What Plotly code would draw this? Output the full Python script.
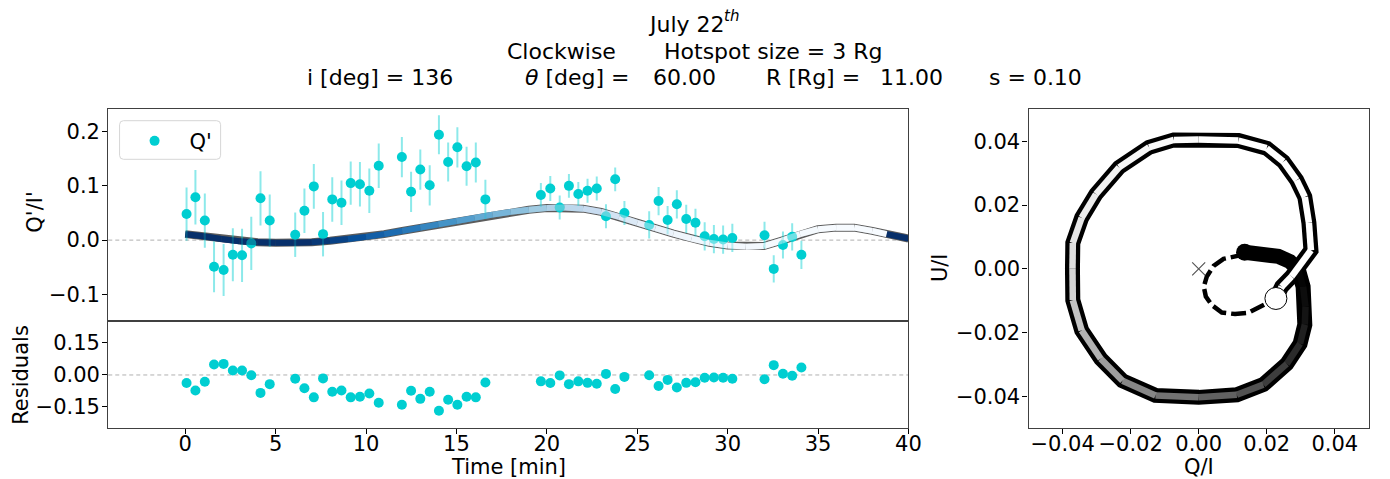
import plotly.graph_objects as go
from plotly.colors import sample_colorscale
import plotly.colors as pc

W, H = 1390, 479
FONT = "DejaVu Sans"
FS = 21

# ---------------- data: light curve (Q'/I') ----------------
time_min = [0.07, 0.56, 1.08, 1.59, 2.12, 2.63, 3.14, 3.65, 4.16, 4.67,
            6.08, 6.59, 7.11, 7.62, 8.13, 8.64, 9.15, 9.66, 10.18, 10.70,
            11.98, 12.49, 13.00, 13.52, 14.03, 14.54, 15.05, 15.56, 16.07, 16.60,
            19.67, 20.19, 20.71, 21.22, 21.74, 22.25, 22.76, 23.27, 23.78, 24.29,
            25.66, 26.18, 26.68, 27.19, 27.71, 28.22, 28.73, 29.24, 29.75, 30.26,
            32.04, 32.55, 33.06, 33.57, 34.08]
q_data = [0.048, 0.079, 0.036, -0.049, -0.055, -0.027, -0.028, -0.006, 0.077, 0.036,
          0.010, 0.054, 0.099, 0.011, 0.075, 0.069, 0.105, 0.103, 0.091, 0.137,
          0.153, 0.089, 0.130, 0.101, 0.194, 0.144, 0.171, 0.136, 0.143, 0.075,
          0.083, 0.095, 0.060, 0.100, 0.085, 0.091, 0.095, 0.044, 0.112, 0.050,
          0.028, 0.072, 0.037, 0.066, 0.039, 0.032, 0.007, 0.002, 0.001, 0.004,
          0.009, -0.053, -0.009, 0.006, -0.027]
q_err = [0.049, 0.050, 0.050, 0.047, 0.048, 0.049, 0.049, 0.049, 0.050, 0.048,
         0.041, 0.041, 0.041, 0.041, 0.041, 0.041, 0.040, 0.041, 0.041, 0.041,
         0.037, 0.037, 0.037, 0.037, 0.036, 0.036, 0.037, 0.036, 0.037, 0.036,
         0.022, 0.023, 0.022, 0.022, 0.022, 0.022, 0.022, 0.022, 0.022, 0.022,
         0.025, 0.026, 0.026, 0.026, 0.026, 0.026, 0.026, 0.026, 0.026, 0.026,
         0.025, 0.025, 0.025, 0.025, 0.026]
residuals = [-0.038, -0.073, -0.032, 0.049, 0.052, 0.021, 0.021, -0.001, -0.084, -0.043,
             -0.018, -0.062, -0.105, -0.016, -0.079, -0.073, -0.105, -0.102, -0.087, -0.130,
             -0.140, -0.074, -0.112, -0.079, -0.168, -0.116, -0.140, -0.102, -0.105, -0.035,
             -0.030, -0.038, -0.002, -0.043, -0.030, -0.037, -0.041, 0.005, -0.066, -0.009,
             -0.001, -0.052, -0.023, -0.059, -0.037, -0.034, -0.013, -0.012, -0.013, -0.018,
             -0.020, 0.046, 0.006, -0.004, 0.035]

# model curve
model_t = [0, 1, 2, 3, 4, 5, 6, 7, 8, 9, 10, 11, 12, 13, 14, 15, 16, 17, 18, 19, 20,
           21, 22, 23, 24, 25, 26, 27, 28, 29, 30, 31, 32, 33, 34, 35, 36, 37, 38, 38.8, 40]
model_q = [0.011, 0.007, 0.002, -0.002, -0.004, -0.005, -0.005, -0.004, -0.001, 0.002, 0.006,
           0.011, 0.017, 0.023, 0.029, 0.035, 0.041, 0.047, 0.052, 0.056, 0.059,
           0.060, 0.058, 0.052, 0.043, 0.032, 0.022, 0.012, 0.003, -0.005, -0.010,
           -0.012, -0.011, -0.001, 0.011, 0.020, 0.023, 0.023, 0.017, 0.011, 0.003]
# colour (position on the Blues scale) of each model segment
model_seg_c = [1.0, 1.0, 1.0, 1.0, 1.0, 1.0, 1.0, 0.97, 0.93, 0.88,
               0.82, 0.77, 0.72, 0.67, 0.62, 0.57, 0.52, 0.47, 0.42, 0.37,
               0.32, 0.28, 0.24, 0.19, 0.14, 0.09, 0.06, 0.04, 0.03, 0.02,
               0.02, 0.02, 0.01, 0.01, 0.01, 0.0, 0.0, 0.0, 0.0, 1.0]

# ---------------- data: Q/I - U/I loop ----------------
loop_q = [0.0135, 0.0185, 0.0234, 0.0268, 0.0293, 0.0307, 0.0314, 0.0312, 0.0298, 0.0259,
          0.0190, 0.0112, 0.0, -0.0127, -0.0224, -0.0288, -0.0344, -0.0370, -0.0371, -0.0370,
          -0.0344, -0.0302, -0.0234, -0.0146, -0.0073, 0.0, 0.0117, 0.0200, 0.0249, 0.0288,
          0.0312, 0.0324, 0.0330, 0.0273, 0.0244, 0.0227]
loop_u = [0.0052, 0.0047, 0.0039, 0.0023, -0.0003, -0.0056, -0.0119, -0.0175, -0.0235, -0.0298,
          -0.0363, -0.0395, -0.0403, -0.0397, -0.0351, -0.0282, -0.0193, -0.0098, 0.0, 0.0081,
          0.0160, 0.0234, 0.0318, 0.0381, 0.0404, 0.0405, 0.0402, 0.0378, 0.0336, 0.0278,
          0.0225, 0.0144, 0.0058, -0.0024, -0.0056, -0.0093]
loop_gray = [0.0, 0.0, 0.0, 0.0, 0.02, 0.05, 0.08, 0.12, 0.17, 0.24,
             0.32, 0.38, 0.45, 0.53, 0.62, 0.70, 0.77, 0.83, 0.87, 0.90,
             0.93, 0.95, 0.97, 0.98, 0.99, 1.0, 1.0, 1.0, 1.0, 1.0,
             1.0, 1.0, 1.0, 1.0, 1.0]
dash_q = [0.0135, 0.0117, 0.0073, 0.0044, 0.0024, 0.0015, 0.0021, 0.0039, 0.0068, 0.0107,
          0.0146, 0.0185, 0.0215, 0.0227]
dash_u = [0.0052, 0.0041, 0.0031, 0.0009, -0.0024, -0.0056, -0.0087, -0.0114, -0.0137, -0.0142,
          -0.0138, -0.0117, -0.0098, -0.0093]
origin_q = [0.0]
origin_u = [0.0]


def px(x):
    return x / W


def py(y):
    return 1 - y / H


L_LEFT, L_RIGHT = 109.3, 917.0
TOP_T, TOP_B, RES_B = 109.3, 321.0, 428.3
R_LEFT, R_RIGHT = 1038.3, 1381.7

TEAL = "rgb(0,206,209)"
blues = pc.sequential.Blues

fig = go.Figure()


def add_model(opacity, outline):
    if outline:
        fig.add_trace(go.Scatter(x=model_t, y=model_q, mode="lines", xaxis="x2", yaxis="y2",
                                 line=dict(color="#5c5c5c", width=8),
                                 showlegend=False, hoverinfo="skip"))
    for i in range(len(model_t) - 1):
        col = sample_colorscale(blues, [model_seg_c[i]])[0]
        fig.add_trace(go.Scatter(x=model_t[i:i + 2], y=model_q[i:i + 2], mode="lines",
                                 xaxis="x2", yaxis="y2", opacity=opacity,
                                 line=dict(color=col, width=6),
                                 showlegend=False, hoverinfo="skip"))


add_model(1.0, True)
fig.add_trace(go.Scatter(x=time_min, y=q_data, mode="markers", name="Q'", xaxis="x2", yaxis="y2",
                         marker=dict(color=TEAL, size=10),
                         error_y=dict(type="data", array=q_err, color="rgba(0,206,209,0.45)",
                                      thickness=2, width=0),
                         showlegend=True))
add_model(0.45, False)

fig.add_trace(go.Scatter(x=time_min, y=residuals, mode="markers", xaxis="x", yaxis="y",
                         marker=dict(color=TEAL, size=10), showlegend=False))

fig.add_trace(go.Scatter(x=loop_q, y=loop_u, mode="lines", xaxis="x3", yaxis="y3",
                         line=dict(color="black", width=15), showlegend=False))
for i in range(len(loop_q) - 1):
    g = int(round(255 * loop_gray[i]))
    fig.add_trace(go.Scatter(x=loop_q[i:i + 2], y=loop_u[i:i + 2], mode="lines",
                             xaxis="x3", yaxis="y3",
                             line=dict(color=f"rgb({g},{g},{g})", width=6.5),
                             showlegend=False))
fig.add_trace(go.Scatter(x=dash_q, y=dash_u, mode="lines", xaxis="x3", yaxis="y3",
                         line=dict(color="black", width=4.5, dash="15px,5px"), showlegend=False))
fig.add_trace(go.Scatter(x=origin_q, y=origin_u, mode="markers", xaxis="x3", yaxis="y3",
                         marker=dict(symbol="x-thin", size=13, line=dict(color="#555555", width=1.2)),
                         showlegend=False))
fig.add_trace(go.Scatter(x=loop_q[:1], y=loop_u[:1], mode="markers", xaxis="x3", yaxis="y3",
                         marker=dict(color="black", size=17), showlegend=False))
fig.add_trace(go.Scatter(x=loop_q[-1:], y=loop_u[-1:], mode="markers", xaxis="x3", yaxis="y3",
                         marker=dict(color="white", size=22, line=dict(color="black", width=1)),
                         showlegend=False))

axis_common = dict(showgrid=False, zeroline=False, showline=True, mirror=True,
                   linecolor="#404040", linewidth=1.3, ticklen=5,
                   tickwidth=1, tickcolor="black",
                   tickfont=dict(family=FONT, size=FS, color="black"))

fig.update_layout(
    width=W, height=H, autosize=False,
    margin=dict(l=0, r=0, t=0, b=0),
    paper_bgcolor="white", plot_bgcolor="white",
    font=dict(family=FONT, size=FS, color="black"),
    xaxis=dict(domain=[px(L_LEFT), px(L_RIGHT)], anchor="y", range=[-4.26, 40],
               tickvals=[0, 5, 10, 15, 20, 25, 30, 35, 40], ticks="outside",
               ticklabelstandoff=-9, **axis_common),
    yaxis=dict(domain=[py(RES_B), py(TOP_B)], anchor="x", range=[-0.25, 0.253],
               tickvals=[-0.15, 0.0, 0.15], tickformat=".2f", ticks="outside",
               ticklabelstandoff=-2, **axis_common),
    xaxis2=dict(domain=[px(L_LEFT), px(L_RIGHT)], anchor="y2", matches="x",
                showticklabels=False, ticks="", **axis_common),
    yaxis2=dict(domain=[py(TOP_B), py(TOP_T)], anchor="x2", range=[-0.149, 0.241],
                tickvals=[-0.1, 0.0, 0.1, 0.2], tickformat=".1f", ticks="outside",
                ticklabelstandoff=-2, **axis_common),
    xaxis3=dict(domain=[px(R_LEFT), px(R_RIGHT)], anchor="y3", range=[-0.05, 0.05],
                tickvals=[-0.04, -0.02, 0.0, 0.02, 0.04], tickformat=".2f", ticks="outside",
                ticklabelstandoff=-9, **axis_common),
    yaxis3=dict(domain=[py(RES_B), py(TOP_T)], anchor="x3", range=[-0.05, 0.05],
                tickvals=[-0.04, -0.02, 0.0, 0.02, 0.04], tickformat=".2f", ticks="outside",
                ticklabelstandoff=-2, **axis_common),
    legend=dict(x=px(120.7), y=py(120.7), xanchor="left", yanchor="top",
                bgcolor="rgba(0,0,0,0)", borderwidth=0,
                font=dict(family=FONT, size=FS), itemwidth=60),
    showlegend=True,
)

# dashed zero reference lines
for yref, xref in (("y", "x"), ("y2", "x2")):
    fig.add_shape(type="line", xref=f"{xref} domain", yref=yref, x0=0, x1=1, y0=0, y1=0,
                  line=dict(color="#b0b0b0", width=1, dash="4px,3px"), layer="below")

# rounded legend frame
LX0, LX1, LY0, LY1, R = 120.7, 222.7, 120.7, 159.3, 4.0
path = (f"M {px(LX0 + R)},{py(LY0)} L {px(LX1 - R)},{py(LY0)} Q {px(LX1)},{py(LY0)} {px(LX1)},{py(LY0 + R)} "
        f"L {px(LX1)},{py(LY1 - R)} Q {px(LX1)},{py(LY1)} {px(LX1 - R)},{py(LY1)} "
        f"L {px(LX0 + R)},{py(LY1)} Q {px(LX0)},{py(LY1)} {px(LX0)},{py(LY1 - R)} "
        f"L {px(LX0)},{py(LY0 + R)} Q {px(LX0)},{py(LY0)} {px(LX0 + R)},{py(LY0)} Z")
fig.add_shape(type="path", xref="paper", yref="paper", path=path,
              fillcolor="rgba(255,255,255,0.8)", line=dict(color="#d6d6d6", width=1), layer="above")

ann = []


def text_at(x, y, t, xanchor="left", size=22, angle=0):
    ann.append(dict(x=px(x), y=py(y), xref="paper", yref="paper", text=t, showarrow=False,
                    xanchor=xanchor, yanchor="middle", textangle=angle,
                    font=dict(family=FONT, size=size, color="black")))


# title (three lines)
text_at(652, 24, "July 22")
text_at(729, 16, "<i>th</i>", size=15)
text_at(510, 51, "Clockwise")
text_at(668, 51, "Hotspot size = 3 Rg")
text_at(308, 77, "i [deg] = 136")
text_at(528, 77, "<i>θ</i> [deg] =")
text_at(657, 77, "60.00")
text_at(771, 77, "R [Rg] =")
text_at(886, 77, "11.00")
text_at(996, 77, "s = 0.10")

# axis titles
text_at(513, 467, "Time [min]", xanchor="center", size=FS)
text_at(1210, 467, "Q/I", xanchor="center", size=FS)
text_at(35, 212, "Q'/I'", xanchor="center", size=FS, angle=-90)
text_at(21, 375, "Residuals", xanchor="center", size=FS, angle=-90)
text_at(949, 268, "U/I", xanchor="center", size=FS, angle=-90)

fig.update_layout(annotations=ann)

# make the page exactly the figure: no body margin, no scrollbars
post = ("document.documentElement.style.overflow='hidden';"
        "document.body.style.margin='0';document.body.style.overflow='hidden';")
fig.write_html("out.html", config={"responsive": False}, post_script=post)
